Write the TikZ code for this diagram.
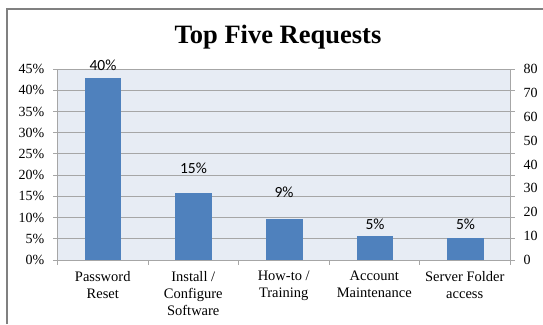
\documentclass[tikz,border=0pt]{standalone}
\usepackage{fontspec}
\setmainfont{Liberation Serif}
\newfontfamily\labfont{Carlito}
\definecolor{plotbg}{HTML}{E7ECF4}
\definecolor{barblue}{HTML}{4F81BD}
\definecolor{gridgray}{HTML}{A6A6A6}
\definecolor{framegray}{HTML}{808080}
\tikzset{
  bar/.style={fill=barblue, draw=none},
  grid line/.style={draw=gridgray, line width=0.9pt},
  axis line/.style={draw=gridgray, line width=0.9pt},
  lefttick/.style={anchor=east, inner sep=0pt, font=\fontsize{14}{15}\selectfont},
  righttick/.style={anchor=west, inner sep=0pt, font=\fontsize{14}{15}\selectfont},
  datalabel/.style={inner sep=0pt, font=\labfont\fontsize{15.5}{16}\selectfont},
  catlabel/.style={anchor=north, inner sep=0pt, align=center, font=\fontsize{14.5}{17}\selectfont},
  title/.style={inner sep=0pt, font=\bfseries\fontsize{26.5}{28}\selectfont}
}
\begin{document}
\begin{tikzpicture}[x=1pt,y=-1pt]
\useasboundingbox (0,0) rectangle (543,324);
% frame
\draw[framegray, line width=1.5pt] (7,324) -- (7,9) -- (543,9);
% title
\node[title] (title) at (278,37) {Top Five Requests};
% plot area
\fill[plotbg] (57.5,69) rectangle (510,260);
\foreach \i in {0,...,9} {
  \pgfmathsetmacro{\yy}{260-\i*191/9}
  \draw[grid line] (53,\yy) -- (510,\yy);
  \draw[grid line] (510,\yy) -- (515,\yy);
}
\draw[axis line] (57.5,69) -- (57.5,260);
\draw[axis line] (510,69) -- (510,265);
\foreach \k in {0,...,4} {
  \pgfmathsetmacro{\xx}{57.5+\k*90.5}
  \draw[axis line] (\xx,260) -- (\xx,265);
}
% left labels
\foreach \i/\t in {0/0\%,1/5\%,2/10\%,3/15\%,4/20\%,5/25\%,6/30\%,7/35\%,8/40\%,9/45\%} {
  \pgfmathsetmacro{\yy}{260-\i*191/9}
  \node[lefttick] (l\i) at (44.5,\yy) {\t};
}
% right labels
\foreach \v [count=\i from 0] in {0,10,20,30,40,50,60,70,80} {
  \pgfmathsetmacro{\yy}{260-\i*191/8}
  \node[righttick] (r\i) at (523.5,\yy) {\v};
}
% bars
\fill[bar] (85,78) rectangle (121.3,260);
\fill[bar] (175,193.3) rectangle (212,260);
\fill[bar] (265.7,219.3) rectangle (302.7,260);
\fill[bar] (357,236) rectangle (393.3,260);
\fill[bar] (447,238.3) rectangle (484.3,260);
% data labels
\node[datalabel] (d1) at (103,65) {40\%};
\node[datalabel] (d2) at (193.5,168) {15\%};
\node[datalabel] (d3) at (284,192.7) {9\%};
\node[datalabel] (d4) at (375,224.7) {5\%};
\node[datalabel] (d5) at (465.5,224.7) {5\%};
% category labels
\node[catlabel] (c1) at (102.75,271) {Password\\Reset};
\node[catlabel] (c2) at (193.25,271) {Install /\\Configure\\Software};
\node[catlabel] (c3) at (283.75,271) {How-to /\\Training};
\node[catlabel] (c4) at (374.25,271) {Account\\Maintenance};
\node[catlabel] (c5) at (464.75,271) {Server Folder\\access};
\end{tikzpicture}
\end{document}
